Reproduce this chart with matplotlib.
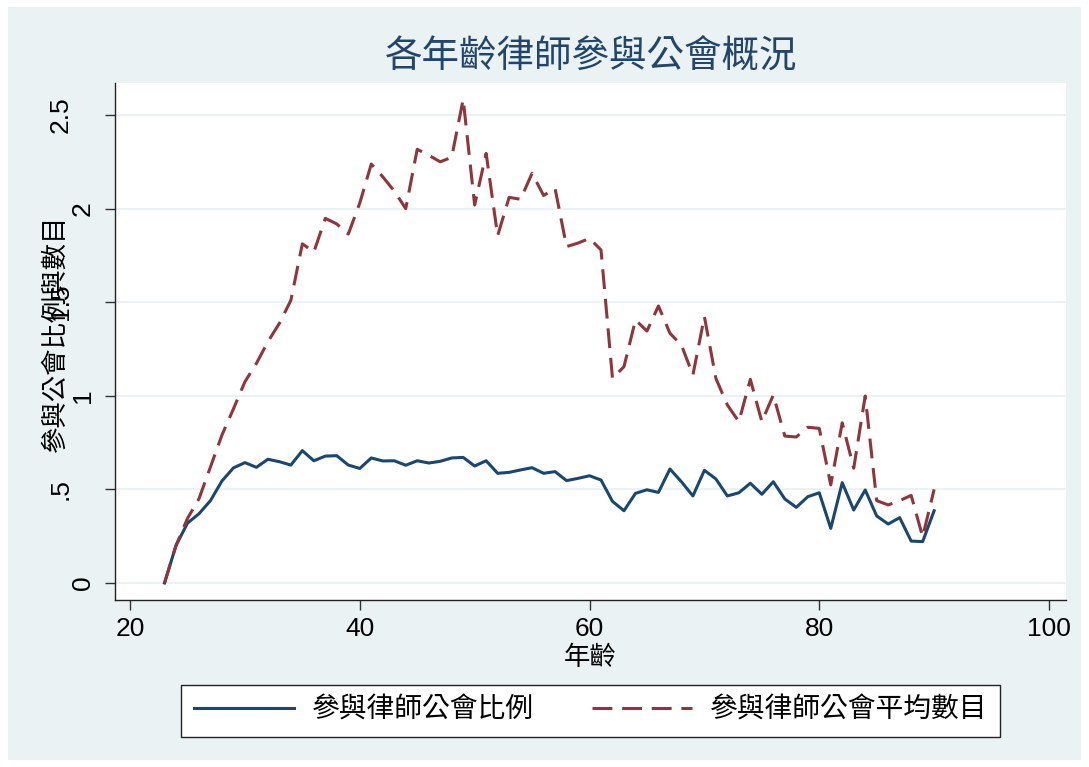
import matplotlib.pyplot as plt
from matplotlib.patches import Rectangle
from matplotlib.transforms import blended_transform_factory

# 字型: 數字用 Liberation Sans, 中文用 Noto Sans CJK TC
plt.rcParams['font.family'] = ['Liberation Sans', 'Noto Sans CJK TC']

# 年齡 23 ~ 90
ages = list(range(23, 91))

# 參與律師公會比例
ratio = [0.00, 0.20, 0.32, 0.37, 0.44, 0.545, 0.615, 0.643, 0.618, 0.661,
         0.648, 0.630, 0.707, 0.653, 0.678, 0.680, 0.630, 0.612, 0.668, 0.652,
         0.653, 0.629, 0.653, 0.641, 0.650, 0.668, 0.671, 0.625, 0.653, 0.586,
         0.591, 0.604, 0.616, 0.586, 0.595, 0.547, 0.559, 0.573, 0.550, 0.436,
         0.386, 0.479, 0.498, 0.484, 0.609, 0.541, 0.465, 0.602, 0.556, 0.465,
         0.482, 0.533, 0.474, 0.541, 0.449, 0.404, 0.461, 0.482, 0.292, 0.536,
         0.390, 0.497, 0.358, 0.315, 0.349, 0.224, 0.221, 0.386]

# 參與律師公會平均數目
mean_count = [0.00, 0.20, 0.345, 0.45, 0.62, 0.79, 0.93, 1.075, 1.173, 1.289,
              1.387, 1.51, 1.812, 1.768, 1.948, 1.918, 1.864, 2.03, 2.238, 2.17,
              2.094, 2.00, 2.317, 2.285, 2.25, 2.274, 2.584, 2.019, 2.295, 1.855,
              2.06, 2.05, 2.189, 2.07, 2.108, 1.797, 1.816, 1.841, 1.779, 1.093,
              1.156, 1.405, 1.346, 1.48, 1.334, 1.271, 1.111, 1.423, 1.093, 0.951,
              0.862, 1.088, 0.862, 1.004, 0.785, 0.78, 0.832, 0.826, 0.524, 0.856,
              0.613, 0.999, 0.44, 0.417, 0.44, 0.468, 0.247, 0.50]

y_ticks = [0, 0.5, 1, 1.5, 2, 2.5]
y_labels = ["0", ".5", "1", "1.5", "2", "2.5"]
x_ticks = [20, 40, 60, 80, 100]

W, H = 1089, 767
fig = plt.figure(figsize=(W / 100, H / 100), dpi=100, facecolor="white")

# 外框底色 (Stata s2color 風格)
fig.patches.append(Rectangle((8 / W, 7 / H), (1081 - 8) / W, (760 - 7) / H,
                             transform=fig.transFigure, facecolor="#EAF2F3",
                             edgecolor="none", zorder=-10))

ax = fig.add_axes([115 / W, 1 - 600 / H, (1066 - 115) / W, (600 - 83) / H])
ax.set_facecolor("white")

ax.plot(ages, ratio, color="#1A476F", linewidth=2.2, label="參與律師公會比例")
ax.plot(ages, mean_count, color="#90353B", linewidth=2.2,
        linestyle=(0, (6.5, 3.2)), label="參與律師公會平均數目")

ax.set_xlim(18.69, 101.48)
ax.set_ylim(-0.0908, 2.671)

ax.set_xticks(x_ticks)
ax.set_yticks(y_ticks)
ax.set_yticklabels([])
ax.tick_params(axis="both", labelsize=19, length=7, width=1, color="#333333",
               direction="out")
ax.tick_params(axis="x", pad=5)

# y 軸刻度文字 (Stata 旋轉標籤, 含小數點者較靠左)
trans = blended_transform_factory(fig.transFigure, ax.transData)
for val, lab in zip(y_ticks, y_labels):
    xpix = 61 if "." in lab else 83
    ax.text(xpix / W, val, lab, transform=trans, rotation=90, fontsize=19,
            ha="center", va="center", clip_on=False)

ax.grid(axis="y", color="#EAF2F3", linewidth=1.5)
ax.set_axisbelow(True)

for side in ["top", "right"]:
    ax.spines[side].set_visible(False)
for side in ["left", "bottom"]:
    ax.spines[side].set_color("#222222")
    ax.spines[side].set_linewidth(1)

ax.set_xlabel("年齡", fontsize=19, va="center")
ax.xaxis.set_label_coords(0.5, -0.112)
ax.set_ylabel("參與公會比例與數目", fontsize=19, va="center")
ax.yaxis.set_label_coords(-0.063, 0.516)

fig.text(591 / W, 1 - 58 / H, "各年齡律師參與公會概況", fontsize=27,
         color="#22466B", ha="center", va="center")

leg = ax.legend(loc="center", ncol=2, mode="expand",
                bbox_to_anchor=(181 / W, 1 - 737 / H, 819 / W, 52 / H),
                bbox_transform=fig.transFigure, borderaxespad=0, fontsize=20,
                handlelength=3.6, handletextpad=0.65, columnspacing=1.9,
                frameon=True, fancybox=False, borderpad=0.45)
leg.get_frame().set_edgecolor("#222222")
leg.get_frame().set_linewidth(1)
leg.get_frame().set_facecolor("white")
leg.get_frame().set_alpha(1)

fig.savefig("out.png", dpi=100, facecolor=fig.get_facecolor())
